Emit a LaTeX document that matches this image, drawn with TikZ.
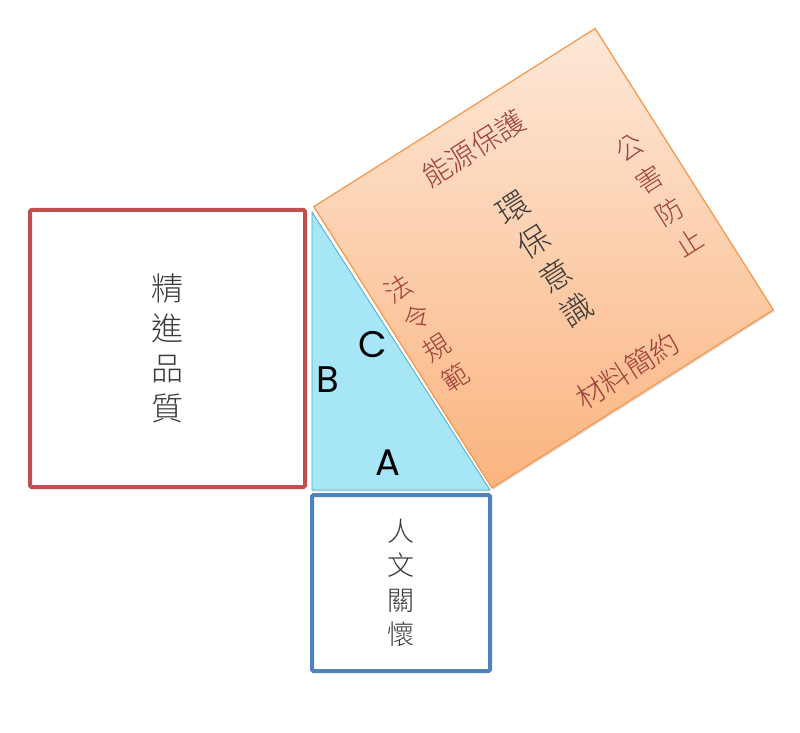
\documentclass[tikz,border=0pt]{standalone}
\usepackage{fontspec}
\setmainfont{Poppins}
\newfontfamily\cjk{Noto Sans CJK TC Light}
\usepackage{tikz}
\usetikzlibrary{shadows}

\definecolor{sqred}{HTML}{C0504D}
\definecolor{sqblue}{HTML}{4F81BD}
\definecolor{sqorange}{HTML}{F79646}
\definecolor{peachlight}{HTML}{FDE8D8}
\definecolor{peachdark}{HTML}{FBB47F}
\definecolor{trifill}{HTML}{A6E6F7}
\definecolor{triedge}{HTML}{4BACC6}
\definecolor{labred}{HTML}{9E3F3B}
\definecolor{labgray}{HTML}{3A3A3A}

\begin{document}
\begin{tikzpicture}[x=1pt,y=1pt,
  sq/.style={draw,line width=4pt,rounded corners=1.5pt,inner sep=0pt,align=center,text=labgray},
  csq/.style={draw=sqorange,line width=1.2pt,minimum size=333pt,inner sep=0pt,
    top color=peachlight,bottom color=peachdark,
    drop shadow={shadow xshift=1.5pt,shadow yshift=-1.5pt,opacity=.25}},
  side/.style={text=labred,align=center,inner sep=0pt},
  mid/.style={text=labgray,font=\cjk\fontsize{32}{40}\selectfont,align=center,inner sep=0pt},
  abc/.style={font=\fontsize{37}{37}\selectfont,inner sep=0pt}]
  \fill[white] (0,0) rectangle (800,732);
  \useasboundingbox (0,0) rectangle (800,732);

  % right triangle
  \coordinate (O) at (312,242);
  \coordinate (T) at (312,520);
  \coordinate (R) at (490,242);
  \draw[triedge,fill=trifill,line width=.8pt,
    drop shadow={shadow xshift=0pt,shadow yshift=-1.5pt,opacity=.25}] (O) -- (T) -- (R) -- cycle;

  % squares on the legs
  \node[sq,draw=sqred,minimum width=275pt,minimum height=277pt,
    font=\cjk\fontsize{32}{40}\selectfont] (sqB) at (167.5,383.5) {精\\進\\品\\質};
  \node[sq,draw=sqblue,minimum width=178pt,minimum height=176pt,
    font=\cjk\fontsize{27}{34.5}\selectfont] (sqA) at (401,149) {人\\文\\關\\懷};

  % square on the hypotenuse
  \begin{scope}[shift={(492,244)},rotate=32.35,transform shape]
    \node[csq] (sqC) at (166.5,166.5) {};
    \node[mid] (env) at (167,165) {環\\保\\意\\識};
    \node[side,font=\cjk\fontsize{29}{29}\selectfont] (energy) at (166,297) {能源保護};
    \node[side,font=\cjk\fontsize{29}{29}\selectfont] (material) at (177,27) {材料簡約};
    \node[side,font=\cjk\fontsize{27}{37.5}\selectfont] (pollution) at (298,158) {公\\害\\防\\止};
    \node[side,font=\cjk\fontsize{27}{35}\selectfont] (law) at (28,166) {法\\令\\規\\範};
  \end{scope}

  % side letters
  \node[abc] (la) at (388,269) {A};
  \node[abc] (lb) at (328,352) {B};
  \node[abc] (lc) at (373,387) {C};
\end{tikzpicture}
\end{document}
